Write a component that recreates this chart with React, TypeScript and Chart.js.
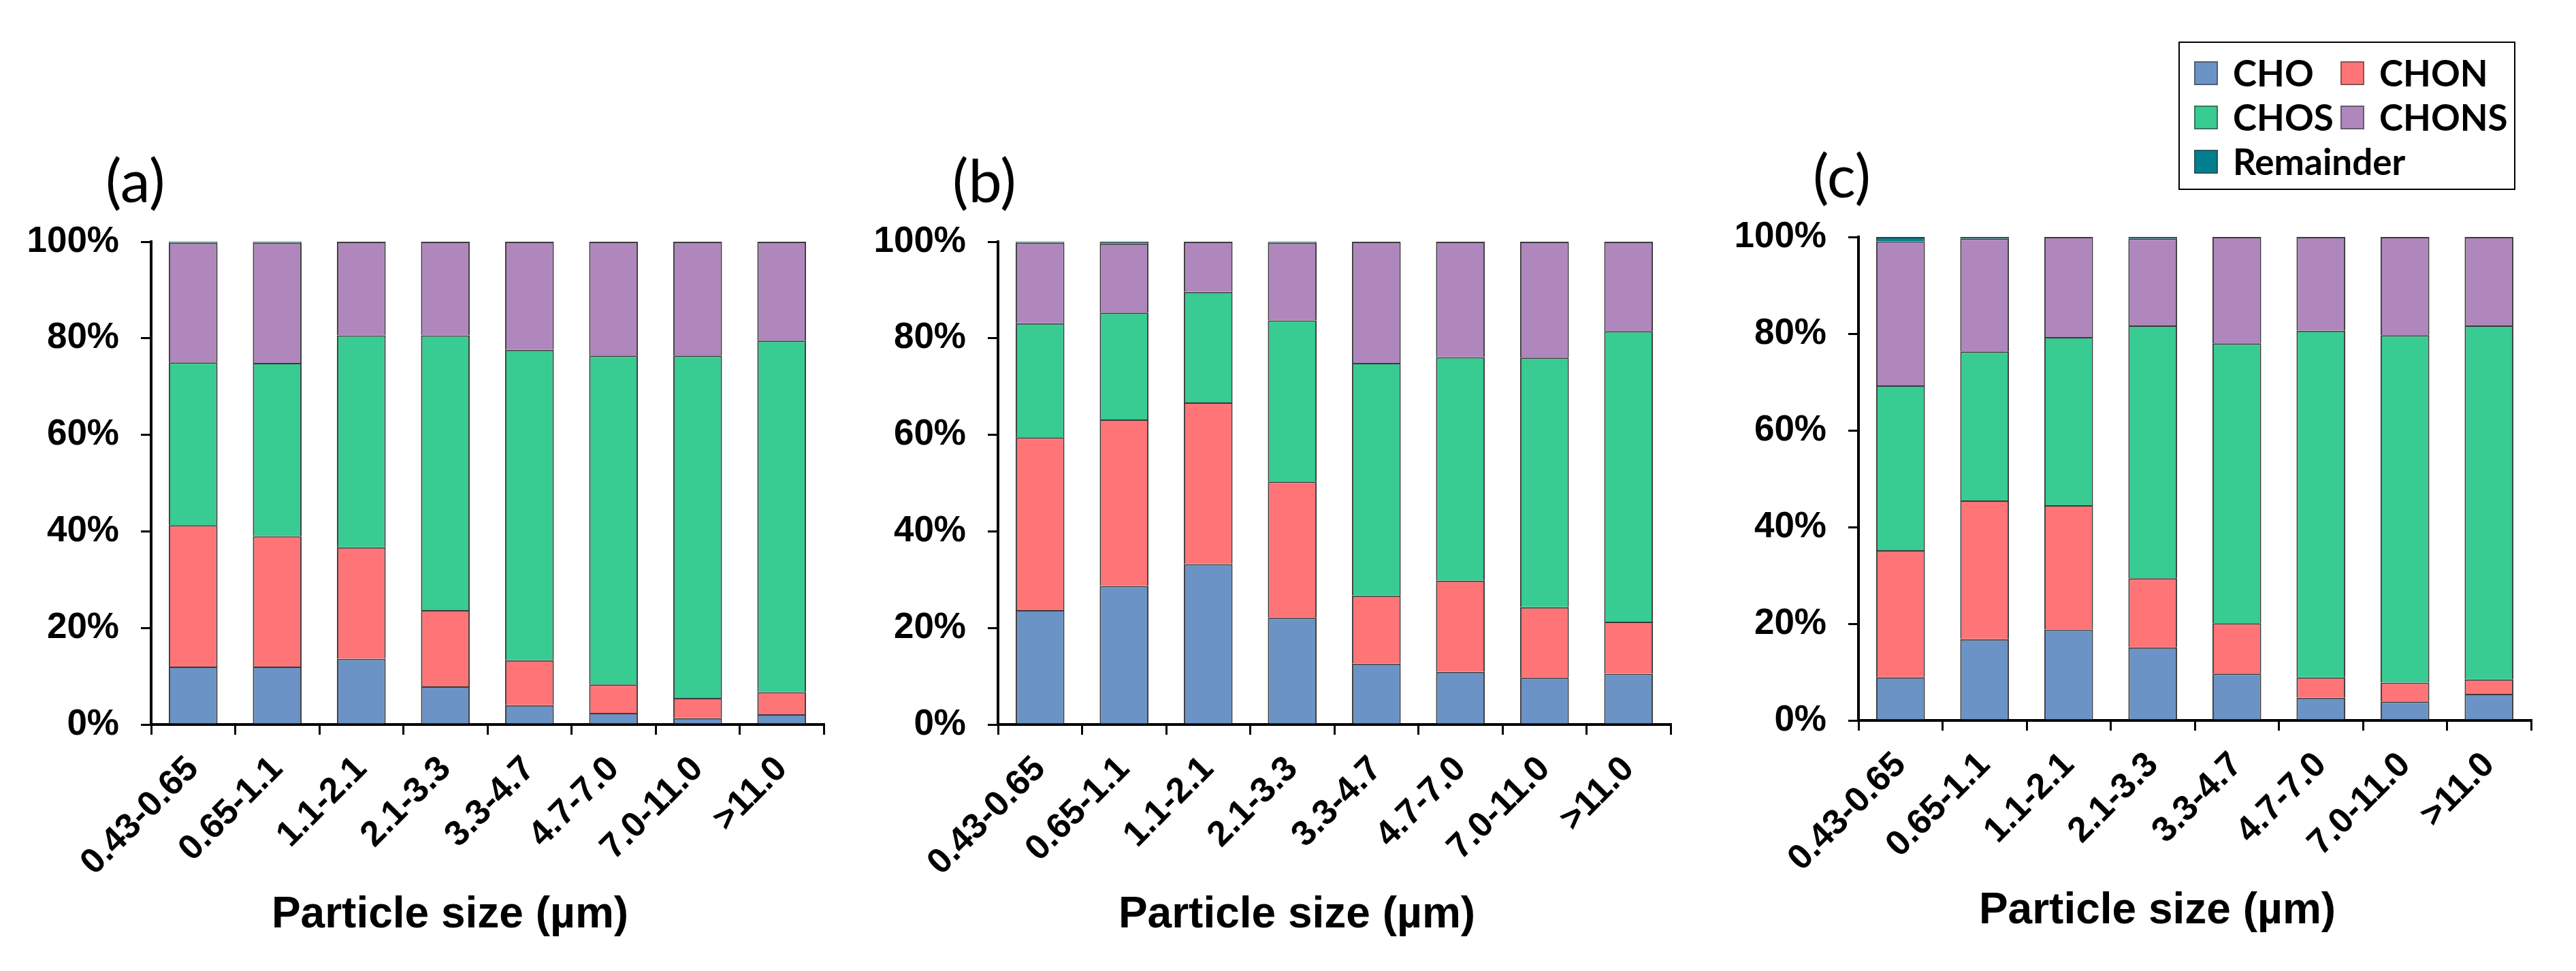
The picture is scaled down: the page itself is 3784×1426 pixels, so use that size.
import React, { useEffect, useRef } from 'react';
import { Chart, registerables } from 'chart.js';

Chart.register(...registerables);

// categories (particle size bins, µm)
const sizeBins = ['0.43-0.65', '0.65-1.1', '1.1-2.1', '2.1-3.3', '3.3-4.7', '4.7-7.0', '7.0-11.0', '>11.0'];
const seriesNames = ['CHO', 'CHON', 'CHOS', 'CHONS', 'Remainder'];
const seriesColors = ['#6C93C6', '#FF7577', '#38CB92', '#AF87BD', '#00808F'];
const yTickValues = [0, 20, 40, 60, 80, 100];

// panel (a) - percent share of each group
const choA = [12.0, 12.0, 13.6, 7.9, 4.0, 2.4, 1.3, 2.1];
const chonA = [29.3, 27.0, 23.1, 15.8, 9.3, 5.9, 4.2, 4.6];
const chosA = [33.7, 35.9, 43.9, 56.9, 64.3, 68.1, 70.9, 72.8];
const chonsA = [24.8, 24.9, 19.4, 19.4, 22.4, 23.6, 23.6, 20.5];
const remA = [0.2, 0.2, 0, 0, 0, 0, 0, 0];

// panel (b)
const choB = [23.7, 28.7, 33.2, 22.1, 12.6, 10.9, 9.7, 10.5];
const chonB = [35.8, 34.5, 33.5, 28.2, 14.1, 18.9, 14.6, 10.8];
const chosB = [23.6, 22.1, 22.9, 33.4, 48.2, 46.3, 51.7, 60.2];
const chonsB = [16.7, 14.3, 10.4, 16.1, 25.1, 23.9, 24.0, 18.5];
const remB = [0.2, 0.4, 0, 0.2, 0, 0, 0, 0];

// panel (c)
const choC = [8.9, 16.8, 18.8, 15.1, 9.7, 4.7, 3.9, 5.5];
const chonC = [26.3, 28.7, 25.7, 14.3, 10.4, 4.2, 3.9, 3.0];
const chosC = [34.1, 30.8, 34.8, 52.3, 57.9, 71.7, 71.9, 73.2];
const chonsC = [29.8, 23.4, 20.7, 18.0, 22.0, 19.4, 20.3, 18.3];
const remC = [0.9, 0.3, 0, 0.3, 0, 0, 0, 0];

const PAGE_H = 1426;
const CANVAS_W = 1240;
const Y_AXIS_W = 222;

// draws the panel letter and the x axis title
const panelText = {
	id: 'panelText',
	afterDraw(chart: any, _args: any, opts: any) {
		const { ctx, chartArea } = chart;
		ctx.save();
		ctx.fillStyle = '#000';
		ctx.font = "88px Lato, 'Liberation Sans', sans-serif";
		ctx.textAlign = 'left';
		ctx.textBaseline = 'middle';
		ctx.fillText(opts.letter, chartArea.left - 67, chartArea.top - 86);
		ctx.font = "bold 64px 'Liberation Sans', Arial, sans-serif";
		ctx.textAlign = 'center';
		ctx.textBaseline = 'alphabetic';
		ctx.fillText('Particle size (µm)', (chartArea.left + chartArea.right) / 2 - 55, chartArea.bottom + 298);
		ctx.restore();
	}
};

interface PanelProps {
	letter: string;
	series: number[][];
	left: number;
	plotTop: number;
	plotBottom: number;
}

function StackPanel({ letter, series, left, plotTop, plotBottom }: PanelProps) {
	const chartRef = useRef<HTMLCanvasElement>(null);
	const chartInstance = useRef<Chart | null>(null);

	useEffect(() => {
		if (chartInstance.current) {
			chartInstance.current.destroy();
		}
		if (!chartRef.current) return;
		const ctx = chartRef.current.getContext('2d');
		if (!ctx) return;

		chartInstance.current = new Chart(ctx, {
			type: 'bar',
			data: {
				labels: sizeBins,
				datasets: series.map((values, i) => ({
					label: seriesNames[i],
					data: values,
					backgroundColor: seriesColors[i],
					borderColor: '#3a3a3a',
					borderWidth: 2,
					barPercentage: 0.58,
					categoryPercentage: 1
				}))
			},
			plugins: [panelText],
			options: {
				responsive: false,
				animation: false,
				devicePixelRatio: 1,
				layout: { padding: { top: plotTop, right: 30, left: 0, bottom: 0 } },
				plugins: {
					legend: { display: false },
					tooltip: { enabled: false },
					// @ts-ignore
					panelText: { letter }
				},
				scales: {
					x: {
						stacked: true,
						afterFit: (scale: any) => {
							scale.height = PAGE_H - plotBottom;
						},
						grid: {
							offset: true,
							drawOnChartArea: false,
							drawTicks: true,
							tickLength: 15,
							color: '#000',
							lineWidth: 3
						},
						border: { display: true, color: '#000', width: 4 },
						ticks: {
							autoSkip: false,
							maxRotation: 45,
							minRotation: 45,
							padding: 20,
							color: '#000',
							font: { family: "'Liberation Sans', Arial, sans-serif", size: 52, weight: 'bold' }
						}
					},
					y: {
						stacked: true,
						min: 0,
						max: 100,
						afterFit: (scale: any) => {
							scale.width = Y_AXIS_W;
						},
						afterBuildTicks: (scale: any) => {
							scale.ticks = yTickValues.map((v) => ({ value: v }));
						},
						grid: {
							drawOnChartArea: false,
							drawTicks: true,
							tickLength: 15,
							color: '#000',
							lineWidth: 3
						},
						border: { display: true, color: '#000', width: 4 },
						ticks: {
							padding: 32,
							color: '#000',
							callback: (v: any) => v + '%',
							font: { family: "'Liberation Sans', Arial, sans-serif", size: 53, weight: 'bold' }
						}
					}
				}
			}
		});

		return () => {
			if (chartInstance.current) {
				chartInstance.current.destroy();
				chartInstance.current = null;
			}
		};
	}, [letter, series, plotTop, plotBottom]);

	return (
		<div style={{ position: 'absolute', left, top: 0, width: CANVAS_W, height: PAGE_H }}>
			<canvas ref={chartRef} width={CANVAS_W} height={PAGE_H}></canvas>
		</div>
	);
}

function Legend() {
	return (
		<div
			style={{
				position: 'absolute',
				left: 3200,
				top: 61,
				width: 495,
				height: 218,
				boxSizing: 'border-box',
				border: '2px solid #000',
				background: '#fff',
				fontFamily: "Lato, 'Liberation Sans', sans-serif",
				fontWeight: 'bold',
				fontSize: 53
			}}
		>
			{seriesNames.map((name, i) => (
				<div
					key={name}
					style={{
						position: 'absolute',
						left: 21 + (i % 2) * 215,
						top: 24 + Math.floor(i / 2) * 65,
						height: 40,
						display: 'flex',
						alignItems: 'center',
						whiteSpace: 'nowrap'
					}}
				>
					<span
						style={{
							display: 'inline-block',
							width: 35,
							height: 35,
							boxSizing: 'border-box',
							background: seriesColors[i],
							border: '2px solid rgba(60,60,60,0.6)',
							marginRight: 22
						}}
					></span>
					<span style={{ lineHeight: '40px' }}>{name}</span>
				</div>
			))}
		</div>
	);
}

const seriesA = [choA, chonA, chosA, chonsA, remA];
const seriesB = [choB, chonB, chosB, chonsB, remB];
const seriesC = [choC, chonC, chosC, chonsC, remC];

export default function App() {
	return (
		<div style={{ position: 'absolute', left: 0, top: 0, width: 3784, height: PAGE_H, background: '#fff' }}>
			<StackPanel letter="(a)" series={seriesA} left={0} plotTop={355} plotBottom={1064} />
			<StackPanel letter="(b)" series={seriesB} left={1244} plotTop={355} plotBottom={1064} />
			<StackPanel letter="(c)" series={seriesC} left={2508} plotTop={348} plotBottom={1058} />
			<Legend />
		</div>
	);
}
